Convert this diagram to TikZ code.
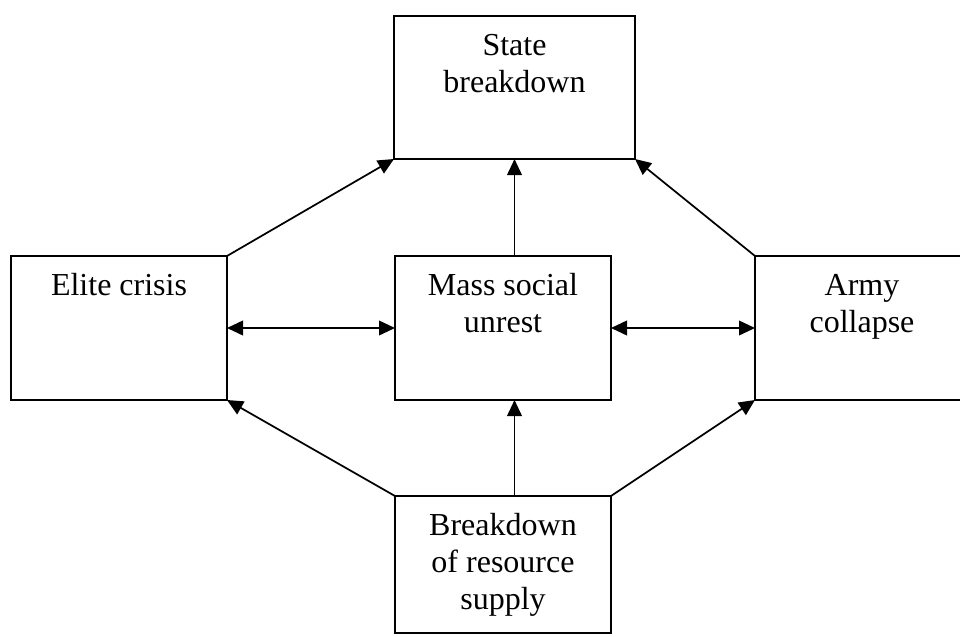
\documentclass[tikz,border=0pt]{standalone}
\usepackage{fontspec}
\setmainfont{Liberation Serif}
\usetikzlibrary{arrows.meta}
\newlength\pxu
\setlength\pxu{0.75pt}
\newcommand\boxtext[3]{\parbox[t][#2\pxu][t]{#1\pxu}{\centering\rule{0pt}{39\pxu}#3}}
\tikzset{
  box/.style={draw, line width=1.5pt, inner sep=0pt, outer sep=0pt, anchor=north west,
    font=\fontsize{24pt}{27.75pt}\selectfont},
  conn/.style={line width=1.3pt, -{Triangle[length=12pt,width=11pt]}},
  dconn/.style={line width=1.3pt, {Triangle[length=12pt,width=11pt]}-{Triangle[length=12pt,width=11pt]}}
}
\begin{document}
\begin{tikzpicture}[x=0.75pt, y=-0.75pt]
\clip (0,0) rectangle (960,636);
\node[box] (state) at (394,16) {\boxtext{241}{143}{State\\breakdown}};
\node[box] (elite) at (11,256) {\boxtext{216}{144}{Elite crisis}};
\node[box] (mass) at (395,256) {\boxtext{216}{144}{Mass social\\unrest}};
\node[box] (army) at (755,256) {\boxtext{214}{144}{Army\\collapse}};
\node[box] (supply) at (395,496) {\boxtext{216}{137}{Breakdown\\of resource\\supply}};
\draw[conn] (elite.north east) -- (state.south west);
\draw[conn] (army.north west) -- (state.south east);
\draw[conn] (state.south |- mass.north) -- (state.south);
\draw[dconn] (elite.east) -- (mass.west);
\draw[dconn] (mass.east) -- (army.west);
\draw[conn] (state.south |- supply.north) -- (state.south |- mass.south);
\draw[conn] (supply.north west) -- (elite.south east);
\draw[conn] (supply.north east) -- (army.south west);
\end{tikzpicture}
\end{document}
